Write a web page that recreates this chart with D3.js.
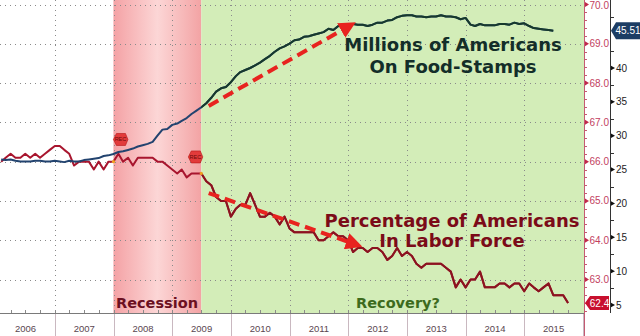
<!DOCTYPE html>
<html>
<head>
<meta charset="utf-8">
<script src="https://cdn.jsdelivr.net/npm/d3@7"></script>
<style>
body{margin:0;background:#fff;}
svg{display:block;}
</style>
</head>
<body>
<div id="chart"></div>
<script>
// monthly series, Jan 2006 onwards
var years = [2006,2007,2008,2009,2010,2011,2012,2013,2014,2015];
// SNAP participants, millions of persons (through Jun 2015)
var foodStamps = [
    26.5,26.4,26.5,26.3,26.2,26.2,26.2,26.3,26.3,26.2,26.2,26.3,
    26.2,26.1,26.3,26.2,26.2,26.4,26.5,26.6,26.7,27.0,27.1,27.3,
    27.6,27.7,27.9,28.1,28.4,28.6,28.8,29.1,30.0,30.9,31.0,31.6,
    31.8,32.2,32.6,33.2,33.7,34.2,34.8,35.6,36.5,37.0,37.2,37.9,
    38.8,39.4,39.7,40.0,40.4,40.8,41.3,41.8,42.4,42.9,43.2,43.6,
    44.1,44.2,44.6,44.7,44.9,45.1,45.3,45.8,45.6,46.2,46.3,46.5,
    46.5,46.4,46.4,46.2,46.4,46.7,46.7,47.0,47.1,47.5,47.7,47.8,
    47.8,47.6,47.6,47.5,47.6,47.6,47.8,47.6,47.6,47.5,47.2,47.4,
    46.4,46.2,46.5,46.3,46.3,46.3,46.5,46.5,46.4,46.7,46.5,46.6,
    46.2,45.9,45.8,45.7,45.6,45.51
];
// labor force participation rate, % (through Sep 2015)
var laborForce = [
    66.0,66.1,66.2,66.1,66.1,66.2,66.1,66.2,66.1,66.2,66.3,66.4,
    66.4,66.3,66.2,65.9,66.0,66.0,66.0,65.8,66.0,65.8,66.0,66.0,
    66.2,66.0,66.1,65.9,66.1,66.1,66.1,66.1,66.0,66.0,65.9,65.8,
    65.7,65.8,65.6,65.7,65.7,65.7,65.5,65.4,65.1,65.0,65.0,64.6,
    64.8,64.9,64.9,65.2,64.9,64.6,64.6,64.7,64.6,64.4,64.6,64.3,
    64.2,64.2,64.2,64.2,64.2,64.0,64.0,64.1,64.2,64.1,64.1,64.0,
    63.7,63.8,63.8,63.7,63.8,63.8,63.7,63.5,63.6,63.8,63.6,63.7,
    63.6,63.4,63.3,63.4,63.4,63.4,63.4,63.3,63.2,62.8,63.0,62.8,
    63.0,63.0,63.2,62.8,62.8,62.8,62.9,62.9,62.8,62.9,62.9,62.7,
    62.9,62.8,62.7,62.8,62.9,62.6,62.6,62.6,62.4
];
var leftTicks = [63,64,65,66,67,68,69,70];
var rightTicks = [5,10,15,20,25,30,35,40];
var recession = [new Date(2007,11,31), new Date(2009,5,30)];
// annotation arrows: [date, value] pairs
var arrowFood = [[new Date(2009,7,15), 34.4], [new Date(2011,11,15), 45.9]];
var arrowLabor = [[new Date(2009,7,15), 65.2], [new Date(2012,0,20), 63.93]];

var W = 640, H = 336, plotR = 584, plotB = 313, axis2X = 610;

function monthEnd(i){ return new Date(2006, i+1, 0); }

var svg = d3.select("#chart").append("svg")
    .attr("width", W).attr("height", H)
    .style("font-family", "'Liberation Sans', Arial, sans-serif");

var x = d3.scaleTime()
    .domain([new Date(2006,0,1), new Date(2016,0,1)])
    .range([-3.67, 583.0]);
var yL = d3.scaleLinear().domain([63,70]).range([279.5,4.5]);
var yF = d3.scaleLinear().domain([5,40]).range([305,68]);

var defs = svg.append("defs");
var grad = defs.append("linearGradient").attr("id","recGrad");
grad.append("stop").attr("offset","0%").attr("stop-color","#f4a2a5");
grad.append("stop").attr("offset","50%").attr("stop-color","#fcd6d6");
grad.append("stop").attr("offset","100%").attr("stop-color","#f3a3a4");
defs.append("clipPath").attr("id","plotClip")
    .append("rect").attr("x",0).attr("y",0).attr("width",plotR).attr("height",plotB);
defs.append("clipPath").attr("id","greenClip")
    .append("rect").attr("x",x(recession[1])).attr("y",0)
    .attr("width",plotR - x(recession[1])).attr("height",plotB);
defs.append("marker").attr("id","arrowHead")
    .attr("viewBox","0 0 10 10").attr("refX",3).attr("refY",5)
    .attr("markerWidth",4.2).attr("markerHeight",4.2).attr("orient","auto")
    .append("path").attr("d","M0,0 L10,5 L0,10 z").attr("fill","#e8231f");

// shaded periods
svg.append("rect")
    .attr("x", x(recession[0])).attr("y",0)
    .attr("width", x(recession[1]) - x(recession[0])).attr("height", plotB)
    .attr("fill","url(#recGrad)");
svg.append("rect")
    .attr("x", x(recession[1])).attr("y",0)
    .attr("width", plotR - x(recession[1])).attr("height", plotB)
    .attr("fill","#d3edb8");

// dotted grid
var grid = svg.append("g").attr("stroke","#8a8a8a").attr("stroke-width",1)
    .attr("stroke-dasharray","1,4");
grid.selectAll(".h").data(leftTicks).enter().append("line")
    .attr("x1",0).attr("x2",plotR)
    .attr("y1",function(d){return Math.round(yL(d))+0.5;})
    .attr("y2",function(d){return Math.round(yL(d))+0.5;});
grid.selectAll(".v").data(years.slice(1)).enter().append("line")
    .attr("x1",function(d){return Math.round(x(new Date(d,0,1)))+0.5;})
    .attr("x2",function(d){return Math.round(x(new Date(d,0,1)))+0.5;})
    .attr("y1",0).attr("y2",plotB);

// series lines
var lineF = d3.line()
    .x(function(d,i){return x(monthEnd(i));})
    .y(function(d){return yF(d);});
var lineL = d3.line()
    .x(function(d,i){return x(monthEnd(i));})
    .y(function(d){return yL(d);});

var plot = svg.append("g").attr("clip-path","url(#plotClip)");
plot.append("path").datum(laborForce)
    .attr("d", lineL).attr("fill","none")
    .attr("stroke","#a8152e").attr("stroke-width",2).attr("stroke-linejoin","round");
plot.append("path").datum(laborForce)
    .attr("d", lineL).attr("fill","none").attr("clip-path","url(#greenClip)")
    .attr("stroke","#8a1420").attr("stroke-width",2).attr("stroke-linejoin","round");
plot.append("path").datum(foodStamps)
    .attr("d", lineF).attr("fill","none")
    .attr("stroke","#22436f").attr("stroke-width",2).attr("stroke-linejoin","round");
plot.append("path").datum(foodStamps)
    .attr("d", lineF).attr("fill","none").attr("clip-path","url(#greenClip)")
    .attr("stroke","#17392c").attr("stroke-width",2).attr("stroke-linejoin","round");

// recession start/end points on the labor series
var recIdx = [23, 41];
plot.selectAll(".dot").data(recIdx).enter().append("circle")
    .attr("cx",function(i){return x(monthEnd(i));})
    .attr("cy",function(i){return yL(laborForce[i]);})
    .attr("r",1.6).attr("fill","#f0a020");

// REC event flags
function recFlag(cx, cy){
    var g = svg.append("g").attr("transform","translate("+cx+","+cy+")");
    g.append("polygon").attr("points","-7,0 -4,-6 5,-6 7.5,0 5,6 -4,6")
        .attr("fill","#e23b3b").attr("stroke","#b51515").attr("stroke-width",0.6);
    g.append("text").attr("text-anchor","middle").attr("y",2)
        .attr("font-size",5.5).attr("fill","#6d0a0a").text("REC");
}
recFlag(x(recession[0]) + 7, yF(foodStamps[23]) - 14.5);
recFlag(x(recession[1]) - 6, yL(laborForce[41]) - 16.5);

// x axis
svg.append("line").attr("x1",0).attr("x2",plotR)
    .attr("y1",plotB+0.5).attr("y2",plotB+0.5)
    .attr("stroke","#7a7a7a").attr("stroke-width",1);
var quarters = d3.timeMonth.every(3).range(new Date(2006,0,1), new Date(2016,0,1));
svg.selectAll(".qt").data(quarters).enter().append("line")
    .attr("x1",function(d){return Math.round(x(d))+0.5;})
    .attr("x2",function(d){return Math.round(x(d))+0.5;})
    .attr("y1",plotB-3).attr("y2",plotB)
    .attr("stroke","#8a8a8a");
svg.selectAll(".sep").data(years.slice(1).concat([2016])).enter().append("line")
    .attr("x1",function(d){return Math.round(x(new Date(d,0,1)))+0.5;})
    .attr("x2",function(d){return Math.round(x(new Date(d,0,1)))+0.5;})
    .attr("y1",plotB+1).attr("y2",H)
    .attr("stroke","#c9b8c0");
svg.selectAll(".yr").data(years).enter().append("text")
    .attr("x",function(d){return x(new Date(d,6,2));})
    .attr("y",332).attr("text-anchor","middle")
    .attr("font-size",9.5).attr("fill","#5a4650")
    .text(function(d){return d;});

// participation-rate axis
svg.append("line").attr("x1",plotR+0.5).attr("x2",plotR+0.5)
    .attr("y1",0).attr("y2",H).attr("stroke","#c45a72").attr("stroke-width",1);
var minorL = d3.range(62.2, 70.01, 0.2);
svg.selectAll(".mL").data(minorL).enter().append("line")
    .attr("x1",plotR+1).attr("x2",plotR+3)
    .attr("y1",function(d){return Math.round(yL(d))+0.5;})
    .attr("y2",function(d){return Math.round(yL(d))+0.5;})
    .attr("stroke","#c45a72");
var tL = svg.selectAll(".tL").data(leftTicks).enter().append("g")
    .attr("transform",function(d){return "translate("+plotR+","+yL(d)+")";});
tL.append("path").attr("d","M1,-2.5 L5,0 L1,2.5 z").attr("fill","#c0284a");
// keep the top label inside the frame
tL.append("text").attr("x",5.5)
    .attr("y",function(d){return Math.max(3.5, 8.5 - yL(d));})
    .attr("font-size",10)
    .attr("fill","#c23e5e").text(function(d){return d3.format(".1f")(d);});

// food-stamps axis
svg.append("line").attr("x1",axis2X+0.5).attr("x2",axis2X+0.5)
    .attr("y1",0).attr("y2",plotB).attr("stroke","#333").attr("stroke-width",1);
var minorR = d3.range(7.5, 50, 5);
svg.selectAll(".mR").data(minorR).enter().append("line")
    .attr("x1",axis2X+1).attr("x2",axis2X+4)
    .attr("y1",function(d){return Math.round(yF(d))+0.5;})
    .attr("y2",function(d){return Math.round(yF(d))+0.5;})
    .attr("stroke","#333");
var tR = svg.selectAll(".tR").data(rightTicks).enter().append("g")
    .attr("transform",function(d){return "translate("+axis2X+","+yF(d)+")";});
tR.append("path").attr("d","M1,-2.2 L5,0 L1,2.2 z").attr("fill","#111");
tR.append("text").attr("x",6).attr("y",3.5).attr("font-size",10)
    .attr("fill","#222").text(function(d){return d;});

// last-value tags
var lastF = foodStamps[foodStamps.length-1];
var lastL = laborForce[laborForce.length-1];
var tagF = svg.append("g").attr("transform","translate("+(axis2X+1)+","+yF(lastF)+")");
tagF.append("path").attr("d","M0,0 L5,-8.5 L29,-8.5 L29,8.5 L5,8.5 z").attr("fill","#1c3d64");
tagF.append("text").attr("x",17).attr("y",3.6).attr("text-anchor","middle")
    .attr("font-size",10).attr("fill","#fff").text(d3.format(".2f")(lastF));
var tagL = svg.append("g").attr("transform","translate("+(plotR+1)+","+yL(lastL)+")");
tagL.append("path").attr("d","M0,0 L5,-7 L24,-7 L24,7 L5,7 z").attr("fill","#c8102e");
tagL.append("text").attr("x",14.5).attr("y",3.6).attr("text-anchor","middle")
    .attr("font-size",10).attr("fill","#fff").text(d3.format(".1f")(lastL));

// dashed trend arrows
function trendArrow(pts, yScale){
    svg.append("line")
        .attr("x1",x(pts[0][0])).attr("y1",yScale(pts[0][1]))
        .attr("x2",x(pts[1][0])).attr("y2",yScale(pts[1][1]))
        .attr("stroke","#e8231f").attr("stroke-width",4)
        .attr("stroke-dasharray","11,6")
        .attr("marker-end","url(#arrowHead)");
}
trendArrow(arrowFood, yF);
trendArrow(arrowLabor, yL);

// annotations
var bold = "'DejaVu Sans', Verdana, sans-serif";
function label(lines, cx, y0, size, color, gap){
    var t = svg.append("text").attr("text-anchor","middle")
        .attr("font-family",bold).attr("font-weight","bold")
        .attr("font-size",size).attr("fill",color);
    lines.forEach(function(s,i){
        t.append("tspan").attr("x",cx).attr("y",y0 + i*gap).text(s);
    });
}
label(["Millions of Americans","On Food-Stamps"], 453, 51, 18, "#132e29", 22);
label(["Percentage of Americans","In Labor Force"], 452, 227, 18, "#7b0b18", 20);
label(["Recession"], 157, 308, 14.5, "#6c1021", 0);
label(["Recovery?"], 398, 308, 14.5, "#3d6b1d", 0);
</script>
</body>
</html>
